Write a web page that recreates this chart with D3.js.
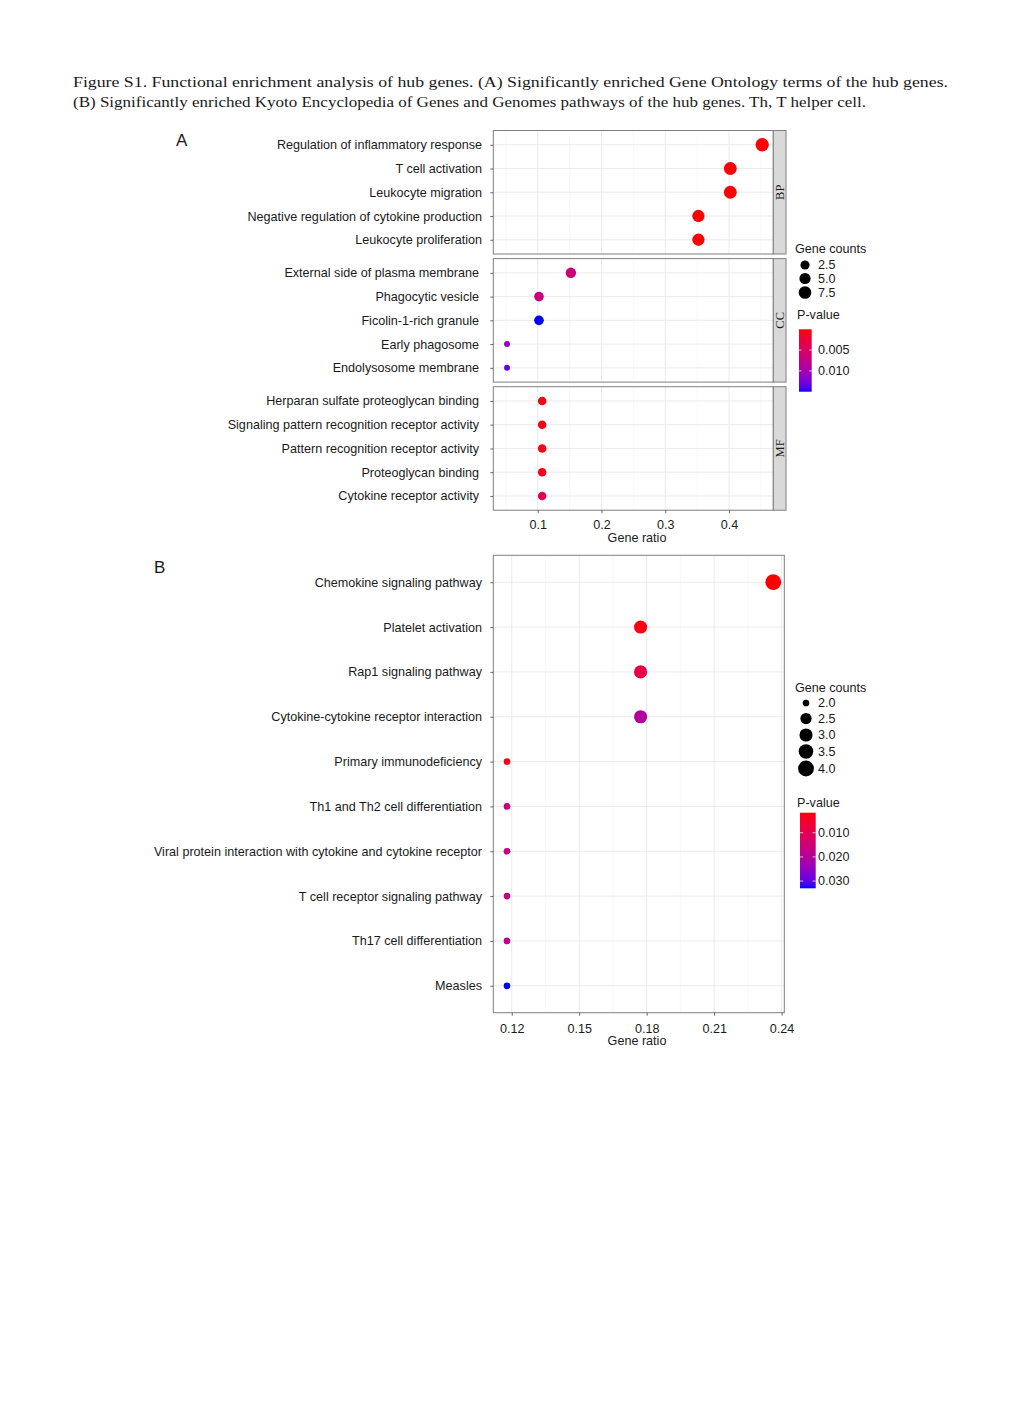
<!DOCTYPE html>
<html><head><meta charset="utf-8">
<script src="https://cdn.jsdelivr.net/npm/d3@7"></script>
<style>body{margin:0;background:#fff}</style>
</head><body>
<svg id="c" width="1020" height="1408"></svg>
<script>
// ---------- DATA ----------
const captionLines = [
  "Figure S1. Functional enrichment analysis of hub genes. (A) Significantly enriched Gene Ontology terms of the hub genes.",
  "(B) Significantly enriched Kyoto Encyclopedia of Genes and Genomes pathways of the hub genes. Th, T helper cell."
];
const goFacets = ["BP", "CC", "MF"];
const goTerms = [
  "Regulation of inflammatory response","T cell activation","Leukocyte migration",
  "Negative regulation of cytokine production","Leukocyte proliferation",
  "External side of plasma membrane","Phagocytic vesicle","Ficolin-1-rich granule",
  "Early phagosome","Endolysosome membrane",
  "Herparan sulfate proteoglycan binding","Signaling pattern recognition receptor activity",
  "Pattern recognition receptor activity","Proteoglycan binding","Cytokine receptor activity"
];
const goCategory = ["BP","BP","BP","BP","BP","CC","CC","CC","CC","CC","MF","MF","MF","MF","MF"];
const goRatio = [0.452,0.402,0.402,0.352,0.352, 0.152,0.102,0.102,0.052,0.052, 0.107,0.107,0.107,0.107,0.107];
const goCount = [9,8,8,7,7, 4,3,3,1,1, 2,2,2,2,2];
const goP = [0.00001,0.00002,0.00002,0.00003,0.00003, 0.0064,0.0068,0.0150,0.0113,0.0132, 0.0006,0.0007,0.0008,0.0009,0.0040];
const goXLimits = [0.0304, 0.4694];
const goXTicks = [0.1,0.2,0.3,0.4];
const goSizeBreaks = [2.5,5.0,7.5];
const goPTicks = [0.005,0.010];

const keggTerms = [
  "Chemokine signaling pathway","Platelet activation","Rap1 signaling pathway",
  "Cytokine-cytokine receptor interaction","Primary immunodeficiency",
  "Th1 and Th2 cell differentiation","Viral protein interaction with cytokine and cytokine receptor",
  "T cell receptor signaling pathway","Th17 cell differentiation","Measles"
];
const keggRatio = [0.2363,0.1773,0.1773,0.1773,0.1179,0.1179,0.1179,0.1179,0.1179,0.1179];
const keggCount = [4,3,3,3,2,2,2,2,2,2];
const keggP = [0.0017,0.0028,0.0080,0.0205,0.0030,0.0160,0.0160,0.0170,0.0180,0.0330];
const keggXLimits = [0.1118, 0.2412];
const keggXTicks = [0.12,0.15,0.18,0.21,0.24];
const keggSizeBreaks = [2.0,2.5,3.0,3.5,4.0];
const keggPTicks = [0.010,0.020,0.030];

// ---------- HELPERS ----------
const sans = "'Liberation Sans', Arial, Helvetica, sans-serif";
const serif = "'Liberation Serif', 'Times New Roman', serif";
const FS = "12.6px";
const svg = d3.select("#c");
svg.append("rect").attr("width",1020).attr("height",1408).attr("fill","#fff");
const defs = svg.append("defs");

function sizeScale(counts, r0, r1){
  const f = d3.scaleLinear().domain(d3.extent(counts)).range([0,1]);
  const g = d3.scaleLinear().domain([0,1]).range([r0,r1]);
  return c => g(Math.sqrt(Math.max(0, f(c))));
}
function colorScale(ps){
  return d3.scaleLinear().domain(d3.extent(ps)).range(["#ff0000","#0000ff"]).interpolate(d3.interpolateLab);
}
function minorTicks(major, domain){
  const step = major[1]-major[0];
  const out = [];
  for (let i=-1;i<major.length;i++){
    const v = (i<0? major[0]-step/2 : major[i]+step/2);
    if (v>domain[0] && v<domain[1]) out.push(v);
  }
  return out;
}
function drawPanel(g, x, y, left, right, top, bottom, major, minor){
  g.append("rect").attr("x",left).attr("y",top).attr("width",right-left).attr("height",bottom-top).attr("fill","#fff");
  g.selectAll(null).data(minor).enter().append("line")
    .attr("x1",d=>x(d)).attr("x2",d=>x(d)).attr("y1",top).attr("y2",bottom)
    .attr("stroke","#f3f3f3").attr("stroke-width",0.6);
  g.selectAll(null).data(major).enter().append("line")
    .attr("x1",d=>x(d)).attr("x2",d=>x(d)).attr("y1",top).attr("y2",bottom)
    .attr("stroke","#ebebeb").attr("stroke-width",1);
  g.selectAll(null).data(y.domain()).enter().append("line")
    .attr("x1",left).attr("x2",right).attr("y1",d=>y(d)).attr("y2",d=>y(d))
    .attr("stroke","#ebebeb").attr("stroke-width",1);
}
function styleAxis(ax){
  ax.select(".domain").remove();
  ax.selectAll(".tick line").attr("stroke","#444").attr("stroke-width",0.8);
  ax.selectAll(".tick text").attr("fill","#1a1a1a").style("font-family",sans).style("font-size",FS);
}
function label(g, x, y, txt, opts={}){
  return g.append("text").attr("x",x).attr("y",y).attr("dy",opts.dy||null)
    .attr("text-anchor",opts.anchor||"start")
    .style("font-family",sans).style("font-size",opts.size||FS).attr("fill","#1a1a1a").text(txt);
}
function drawColorbar(g, col, ticks, bx, by, bw, bh, fmt, id){
  const dom = col.domain();
  const grad = defs.append("linearGradient").attr("id",id)
    .attr("x1",0).attr("y1",0).attr("x2",0).attr("y2",1);
  d3.range(0,1.0001,0.05).forEach(t=>{
    grad.append("stop").attr("offset",t).attr("stop-color",col(dom[0]+t*(dom[1]-dom[0])));
  });
  g.append("rect").attr("x",bx).attr("y",by).attr("width",bw).attr("height",bh).attr("fill",`url(#${id})`);
  const ys = d3.scaleLinear().domain(dom).range([by,by+bh]);
  ticks.forEach(t=>{
    const yy = ys(t);
    g.append("line").attr("x1",bx).attr("x2",bx+bw/5).attr("y1",yy).attr("y2",yy).attr("stroke","#fff").attr("stroke-opacity",0.7);
    g.append("line").attr("x1",bx+bw*4/5).attr("x2",bx+bw).attr("y1",yy).attr("y2",yy).attr("stroke","#fff").attr("stroke-opacity",0.7);
    label(g, 818, yy, fmt(t), {dy:"0.35em"});
  });
}

// ---------- CAPTION ----------
svg.selectAll(".cap").data(captionLines).enter().append("text")
  .attr("x",73).attr("y",(d,i)=>86.5+i*20.8)
  .attr("textLength",(d,i)=>i===0?875:793).attr("lengthAdjust","spacingAndGlyphs")
  .style("font-family",serif).style("font-size","15.5px").attr("fill","#1a1a1a")
  .text(d=>d);

// ---------- PANEL A ----------
(function(){
  const left=493.3, right=773.3, stripW=12.7, top0=130.5, ph=123.5, gap=4.6;
  const x = d3.scaleLinear().domain(goXLimits).range([left,right]);
  const col = colorScale(goP);
  const rs = sizeScale(goCount, 3.0, 6.65);
  const minor = minorTicks(goXTicks, x.domain());
  const g = svg.append("g");
  goFacets.forEach((f,fi)=>{
    const top = top0 + fi*(ph+gap), bottom = top+ph;
    const idx = d3.range(goTerms.length).filter(i=>goCategory[i]===f);
    const y = d3.scalePoint().domain(idx.map(i=>goTerms[i])).range([top,bottom]).padding(0.6);
    drawPanel(g, x, y, left, right, top, bottom, goXTicks, minor);
    g.selectAll(null).data(idx).enter().append("circle")
      .attr("cx",i=>x(goRatio[i])).attr("cy",i=>y(goTerms[i]))
      .attr("r",i=>rs(goCount[i])).attr("fill",i=>col(goP[i]));
    g.append("rect").attr("x",left).attr("y",top).attr("width",right-left).attr("height",ph)
      .attr("fill","none").attr("stroke","#7f7f7f").attr("stroke-width",1);
    // strip
    g.append("rect").attr("x",right).attr("y",top).attr("width",stripW).attr("height",ph)
      .attr("fill","#d9d9d9").attr("stroke","#7f7f7f").attr("stroke-width",1);
    g.append("text").attr("transform",`translate(${right+stripW/2},${top+ph/2}) rotate(-90)`)
      .attr("text-anchor","middle").attr("dy","0.35em")
      .style("font-family",serif).style("font-size","12.5px").attr("fill","#1a1a1a").text(f);
    const ax = g.append("g").attr("transform",`translate(${left},0)`)
      .call(d3.axisLeft(y).tickSize(3).tickPadding(fi===0?8.3:11.3));
    styleAxis(ax);
    if (fi===goFacets.length-1){
      const bx = g.append("g").attr("transform",`translate(0,${bottom})`)
        .call(d3.axisBottom(x).tickValues(goXTicks).tickSize(3).tickPadding(7.3).tickFormat(d3.format(".1f")));
      styleAxis(bx);
      label(g, 637, 541.8, "Gene ratio", {anchor:"middle"});
    }
  });
  label(g, 176, 146, "A", {size:"17px"});
  // legends
  label(g, 795, 252.5, "Gene counts");
  const ly = [265,278.5,292.5];
  goSizeBreaks.forEach((b,i)=>{
    g.append("circle").attr("cx",805).attr("cy",ly[i]).attr("r",rs(b)).attr("fill","#000");
    label(g, 818, ly[i], d3.format(".1f")(b), {dy:"0.35em"});
  });
  label(g, 797, 318.5, "P-value");
  drawColorbar(g, col, goPTicks, 799, 329.3, 12.7, 62.4, d3.format(".3f"), "gA");
})();

// ---------- PANEL B ----------
(function(){
  const left=493.3, right=784.3, top=555.3, bottom=1012.7;
  const x = d3.scaleLinear().domain(keggXLimits).range([left,right]);
  const y = d3.scalePoint().domain(keggTerms).range([top,bottom]).padding(0.6);
  const col = colorScale(keggP);
  const rs = sizeScale(keggCount, 3.35, 7.9);
  const g = svg.append("g");
  drawPanel(g, x, y, left, right, top, bottom, keggXTicks, minorTicks(keggXTicks, x.domain()));
  g.selectAll(null).data(d3.range(keggTerms.length)).enter().append("circle")
    .attr("cx",i=>x(keggRatio[i])).attr("cy",i=>y(keggTerms[i]))
    .attr("r",i=>rs(keggCount[i])).attr("fill",i=>col(keggP[i]));
  g.append("rect").attr("x",left).attr("y",top).attr("width",right-left).attr("height",bottom-top)
    .attr("fill","none").attr("stroke","#7f7f7f").attr("stroke-width",1);
  styleAxis(g.append("g").attr("transform",`translate(${left},0)`).call(d3.axisLeft(y).tickSize(3).tickPadding(8.3)));
  styleAxis(g.append("g").attr("transform",`translate(0,${bottom})`)
    .call(d3.axisBottom(x).tickValues(keggXTicks).tickSize(3).tickPadding(8.6).tickFormat(d3.format(".2f"))));
  label(g, 637, 1045, "Gene ratio", {anchor:"middle"});
  label(g, 154, 573, "B", {size:"17px"});
  label(g, 795, 691.5, "Gene counts");
  const ly = [703,718.5,735,751.5,768.5];
  keggSizeBreaks.forEach((b,i)=>{
    g.append("circle").attr("cx",806).attr("cy",ly[i]).attr("r",rs(b)).attr("fill","#000");
    label(g, 818, ly[i], d3.format(".1f")(b), {dy:"0.35em"});
  });
  label(g, 797, 806.5, "P-value");
  drawColorbar(g, col, keggPTicks, 800, 812.7, 15.7, 75.6, d3.format(".3f"), "gB");
})();
</script>
</body></html>
